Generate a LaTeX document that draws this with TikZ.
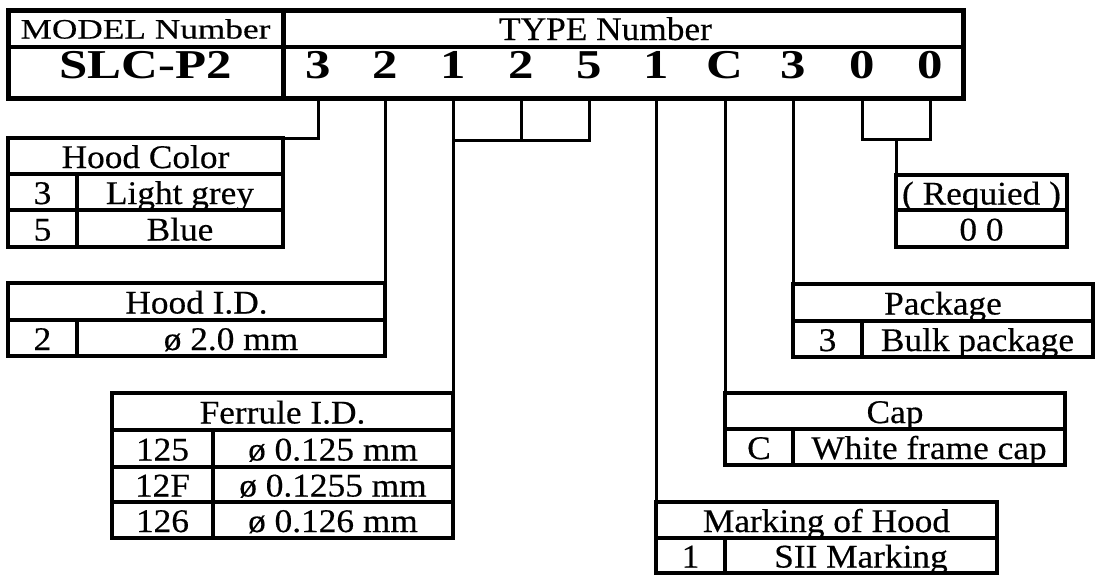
\documentclass[tikz,border=0pt]{standalone}
\usepackage{fontspec}
\setmainfont[FakeStretch=1.07,FakeBold=0.4]{Liberation Serif}
\newfontfamily\modelfont[FakeStretch=1.26,FakeBold=0.4]{Liberation Serif}
\newfontfamily\codefont[FakeStretch=1.24]{Liberation Serif}
\newcommand\cellfont{\fontsize{33}{36}\selectfont}
\newcommand\bigcodefont{\codefont\bfseries\fontsize{41}{44}\selectfont}
\begin{document}
\begin{tikzpicture}[x=1pt,y=-1pt,
  cell/.style={draw, line width=3.5pt, inner sep=0pt, outer sep=0pt, text height=24pt, text depth=0pt, font=\cellfont},
  celltext/.style={inner sep=0pt, outer sep=0pt, text height=23pt, text depth=0pt, font=\cellfont},
  digit/.style={inner sep=0pt, outer sep=0pt, minimum width=60pt, minimum height=51pt, text height=11pt, text depth=0pt, font=\bigcodefont},
  conn/.style={line width=3pt},
  frame/.style={line width=5pt}]
\useasboundingbox (0,0) rectangle (1096,576);

% ---------- header ----------
\node[cell, minimum width=275pt, minimum height=37pt, text height=20pt, font=\modelfont\fontsize{28}{30}\selectfont] (modelT) at (145.5,28.5) {MODEL Number};
\node[cell, minimum width=680pt, minimum height=37pt] (typeT) at (623,28.5) {};
\node[celltext] (typeL) at (605.5,28.5) {TYPE Number};
\node[cell, minimum width=275pt, minimum height=51pt, text height=11pt, font=\bigcodefont] (modelC) at (145.5,72.5) {SLC-P2};
\node[cell, minimum width=680pt, minimum height=51pt] (typeC) at (623,72.5) {};
\node[digit] (d1) at (318,72.5) {3};
\node[digit] (d2) at (385,72.5) {2};
\node[digit] (d3) at (453,72.5) {1};
\node[digit] (d4) at (521,72.5) {2};
\node[digit] (d5) at (589,72.5) {5};
\node[digit] (d6) at (656,72.5) {1};
\node[digit] (d7) at (725,72.5) {C};
\node[digit] (d8) at (793,72.5) {3};
\node[digit] (d9) at (862,72.5) {0};
\node[digit] (d10) at (930,72.5) {0};
\draw[frame] (modelT.north west) rectangle (typeC.south east);
\draw[frame] (modelT.north east) -- (modelC.south east);

% ---------- Hood Color ----------
\node[cell, minimum width=275pt, minimum height=36pt] (hcT) at (145.5,156) {Hood Color};
\node[cell, minimum width=69pt, minimum height=36pt] (hcK1) at (42.5,192) {3};
\node[cell, minimum width=206pt, minimum height=36pt] (hcV1) at (180,192) {Light grey};
\node[cell, minimum width=69pt, minimum height=37pt] (hcK2) at (42.5,228.5) {5};
\node[cell, minimum width=206pt, minimum height=37pt] (hcV2) at (180,228.5) {Blue};

% ---------- Hood I.D. ----------
\node[cell, minimum width=377pt, minimum height=37pt] (hidT) at (196.5,301.5) {Hood I.D.};
\node[cell, minimum width=69pt, minimum height=36pt] (hidK1) at (42.5,338) {2};
\node[cell, minimum width=308pt, minimum height=36pt] (hidV1) at (231,338) {ø 2.0 mm};

% ---------- Ferrule I.D. ----------
\node[cell, minimum width=341pt, minimum height=37pt] (fT) at (282.5,411.5) {Ferrule I.D.};
\node[cell, minimum width=101pt, minimum height=37pt] (fK1) at (162.5,448.5) {125};
\node[cell, minimum width=240pt, minimum height=37pt] (fV1) at (333,448.5) {ø 0.125 mm};
\node[cell, minimum width=101pt, minimum height=35pt] (fK2) at (162.5,484.5) {12F};
\node[cell, minimum width=240pt, minimum height=35pt] (fV2) at (333,484.5) {ø 0.1255 mm};
\node[cell, minimum width=101pt, minimum height=36pt] (fK3) at (162.5,520) {126};
\node[cell, minimum width=240pt, minimum height=36pt] (fV3) at (333,520) {ø 0.126 mm};

% ---------- Marking of Hood ----------
\node[cell, minimum width=341pt, minimum height=36pt] (mT) at (826.5,520) {Marking of Hood};
\node[cell, minimum width=69pt, minimum height=35pt] (mK1) at (690.5,555.5) {1};
\node[cell, minimum width=272pt, minimum height=35pt] (mV1) at (861,555.5) {SII Marking};

% ---------- Cap ----------
\node[cell, minimum width=340pt, minimum height=36pt] (cT) at (895,411) {Cap};
\node[cell, minimum width=68pt, minimum height=36pt] (cK1) at (759,447) {C};
\node[cell, minimum width=272pt, minimum height=36pt] (cV1) at (929,447) {White frame cap};

% ---------- Package ----------
\node[cell, minimum width=300pt, minimum height=37pt] (pT) at (943,302.5) {Package};
\node[cell, minimum width=69pt, minimum height=36pt] (pK1) at (827.5,339) {3};
\node[cell, minimum width=231pt, minimum height=36pt] (pV1) at (977.5,339) {Bulk package};

% ---------- Requied ----------
\node[cell, minimum width=171pt, minimum height=35pt] (rT) at (981.5,192.5) {( Requied )};
\node[cell, minimum width=171pt, minimum height=37pt] (rV1) at (981.5,228.5) {0 0};

% ---------- connectors ----------
\coordinate (g1) at (589,140);
\coordinate (g2) at (930,139);
\draw[conn] (d1.south) |- (hcT.north east);
\draw[conn] (d2.south) -- (hidT.north east);
\draw[conn] (d3.south) -- (fT.north east);
\draw[conn] (d3.south |- g1) -- (g1) -- (d5.south);
\draw[conn] (d4.south) -- (d4.south |- g1);
\draw[conn] (d6.south) -- (mT.north west);
\draw[conn] (d7.south) -- (cT.north west);
\draw[conn] (d8.south) -- (pT.north west);
\draw[conn] (d9.south) |- (g2) -- (d10.south);
\draw[conn] (rT.north west) -- (rT.north west |- g2);
\end{tikzpicture}
\end{document}
